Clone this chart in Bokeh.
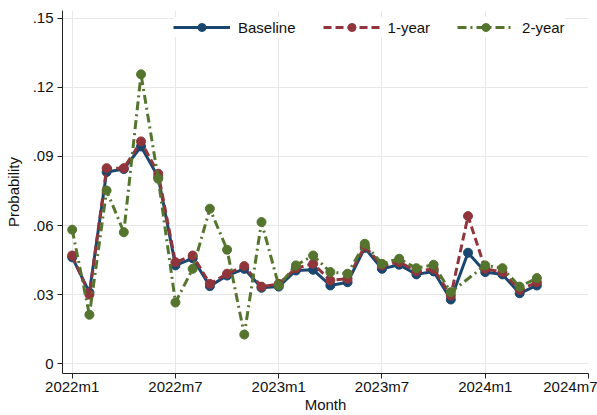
from bokeh.plotting import figure
from bokeh.models import Range1d, FixedTicker, CustomJSTickFormatter, Legend, LegendItem
from bokeh.embed import file_html
from bokeh.resources import INLINE

months = ["2022m1", "2022m2", "2022m3", "2022m4", "2022m5", "2022m6", "2022m7",
          "2022m8", "2022m9", "2022m10", "2022m11", "2022m12", "2023m1", "2023m2",
          "2023m3", "2023m4", "2023m5", "2023m6", "2023m7", "2023m8", "2023m9",
          "2023m10", "2023m11", "2023m12", "2024m1", "2024m2", "2024m3", "2024m4"]

baseline = [0.0462, 0.0310, 0.0832, 0.0845, 0.0943, 0.0810, 0.0427, 0.0458,
            0.0337, 0.0383, 0.0412, 0.0330, 0.0335, 0.0405, 0.0408, 0.0340,
            0.0354, 0.0503, 0.0412, 0.0430, 0.0388, 0.0401, 0.0279, 0.0482,
            0.0398, 0.0388, 0.0306, 0.0340]
one_year = [0.0470, 0.0300, 0.0849, 0.0849, 0.0965, 0.0825, 0.0441, 0.0470,
            0.0347, 0.0391, 0.0424, 0.0335, 0.0347, 0.0415, 0.0434, 0.0362,
            0.0369, 0.0510, 0.0427, 0.0441, 0.0402, 0.0412, 0.0296, 0.0641,
            0.0412, 0.0398, 0.0321, 0.0354]
two_year = [0.0582, 0.0213, 0.0752, 0.0571, 0.1256, 0.0803, 0.0266, 0.0412,
            0.0673, 0.0495, 0.0127, 0.0615, 0.0340, 0.0427, 0.0470, 0.0398,
            0.0391, 0.0521, 0.0434, 0.0456, 0.0415, 0.0430, 0.0311, None,
            0.0427, 0.0415, 0.0335, 0.0372]

x_tick_pos = [0, 6, 12, 18, 24, 30]
x_tick_labels = ["2022m1", "2022m7", "2023m1", "2023m7", "2024m1", "2024m7"]
y_ticks = [0, 0.03, 0.06, 0.09, 0.12, 0.15]

series = [("Baseline", baseline, "#1a476f", "solid"),
          ("1-year", one_year, "#90353b", "8 4"),
          ("2-year", two_year, "#55752f", "9 4 2 4")]

FONT = "Liberation Sans"

p = figure(width=597, height=415, output_backend="svg", toolbar_location=None,
           x_range=Range1d(-0.563, 30.0), y_range=Range1d(-0.0042, 0.1533),
           min_border_left=62, min_border_right=9, min_border_top=10,
           min_border_bottom=42)
p.outline_line_color = None
p.background_fill_color = "white"
p.border_fill_color = "white"

for ax in (p.xaxis[0], p.yaxis[0]):
    ax.axis_line_color = "#222222"
    ax.major_tick_line_color = "#222222"
    ax.major_tick_out = 5
    ax.major_tick_in = 0
    ax.minor_tick_line_color = None
    ax.major_label_text_font = FONT
    ax.major_label_text_font_size = "15px"
    ax.major_label_text_color = "#111111"
    ax.axis_label_text_font = FONT
    ax.axis_label_text_font_size = "15px"
    ax.axis_label_text_font_style = "normal"
    ax.axis_label_text_color = "#111111"

p.xaxis.ticker = FixedTicker(ticks=x_tick_pos)
p.xaxis.major_label_overrides = {k: v for k, v in zip(x_tick_pos, x_tick_labels)}
p.xaxis.axis_label = "Month"
p.xaxis.major_label_standoff = -1
p.xaxis.axis_label_standoff = -2

p.yaxis.ticker = FixedTicker(ticks=y_ticks)
p.yaxis.formatter = CustomJSTickFormatter(
    code='if (Math.abs(tick) < 1e-9) { return "0"; } return tick.toFixed(2).replace(/^0/, "");')
p.yaxis.major_label_orientation = "horizontal"
p.yaxis.axis_label = "Probability"
p.yaxis.major_label_standoff = 4
p.yaxis.axis_label_standoff = 8

p.xgrid.grid_line_color = "#e8e8e8"
p.ygrid.grid_line_color = "#e8e8e8"
p.xgrid.grid_line_width = 1
p.ygrid.grid_line_width = 1

items = []
for name, vals, color, dash in series:
    xs = [i for i, v in enumerate(vals) if v is not None]
    ys = [v for v in vals if v is not None]
    lr = p.line(xs, ys, line_color=color, line_width=3, line_dash=dash)
    sr = p.scatter(xs, ys, size=9, fill_color=color, line_color=color, marker="circle")
    items.append(LegendItem(label=name, renderers=[lr, sr]))

legend = Legend(items=items, orientation="horizontal", location=(111, 336),
                glyph_width=57, glyph_height=20, label_standoff=8, spacing=27,
                padding=5, margin=0, border_line_color=None,
                background_fill_color="white", background_fill_alpha=1.0,
                label_text_font=FONT, label_text_font_size="15px",
                label_text_color="#111111")
p.add_layout(legend, "center")

open("out.html", "w").write(file_html(p, INLINE))
